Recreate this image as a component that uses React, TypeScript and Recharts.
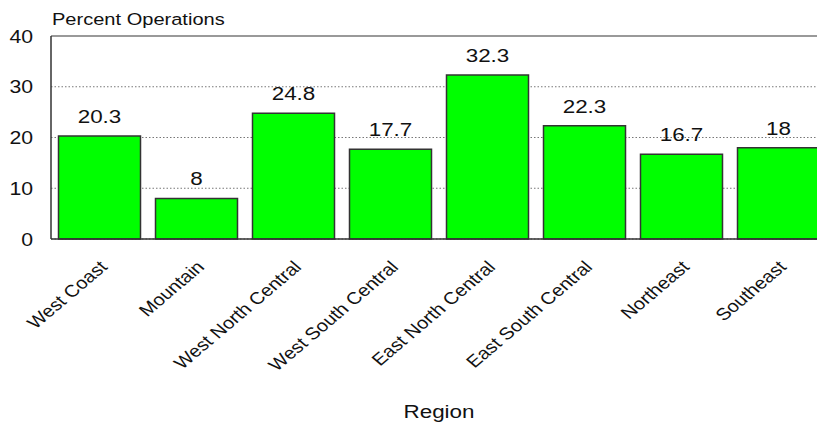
import * as React from "react";
import {
  BarChart,
  Bar,
  XAxis,
  YAxis,
  CartesianGrid,
  ReferenceLine,
  LabelList,
} from "recharts";

const regions = [
  "West Coast",
  "Mountain",
  "West North Central",
  "West South Central",
  "East North Central",
  "East South Central",
  "Northeast",
  "Southeast",
];
const percentOps = [20.3, 8, 24.8, 17.7, 32.3, 22.3, 16.7, 18];
const yTicks = [0, 10, 20, 30, 40];

const data = regions.map((region, i) => ({ region, value: percentOps[i] }));

// the source image is stretched horizontally, so text gets a small x-scale
const S = 1.18;
const FONT = "'Liberation Sans', Arial, Helvetica, sans-serif";
const INK = "#111";

function YTick({ x, y, payload }: any) {
  return (
    <text
      transform={`translate(${x - 18},${y + 6.5}) scale(${S},1)`}
      textAnchor="end"
      fontSize={18}
      fontFamily={FONT}
      fill={INK}
    >
      {payload.value}
    </text>
  );
}

function XTick({ x, y, payload }: any) {
  return (
    <text
      transform={`translate(${x + 9},${y + 29}) scale(${S},1) rotate(-45)`}
      textAnchor="end"
      fontSize={17}
      fontFamily={FONT}
      fill={INK}
    >
      {payload.value}
    </text>
  );
}

function ValueLabel({ x, y, width, value }: any) {
  return (
    <text
      transform={`translate(${x + width / 2},${y - 13}) scale(${S},1)`}
      textAnchor="middle"
      fontSize={19}
      fontFamily={FONT}
      fill={INK}
    >
      {value}
    </text>
  );
}

function RegionLabel({ viewBox }: any) {
  const cx = viewBox.x + viewBox.width / 2;
  return (
    <text
      transform={`translate(${cx},${viewBox.y + viewBox.height - 9}) scale(${S},1)`}
      textAnchor="middle"
      fontSize={19}
      fontFamily={FONT}
      fill={INK}
    >
      Region
    </text>
  );
}

export default function App() {
  return (
    <div
      style={{
        position: "absolute",
        left: 0,
        top: 0,
        width: 817,
        height: 427,
        overflow: "hidden",
        background: "#fff",
      }}
    >
      <BarChart
        width={830}
        height={427}
        data={data}
        margin={{ top: 36, right: 3, left: 0, bottom: 0 }}
        barCategoryGap={7.5}
      >
        <CartesianGrid
          vertical={false}
          stroke="#777"
          strokeDasharray="1.5 2"
        />
        <ReferenceLine y={40} stroke="#999" strokeWidth={2} />
        <XAxis
          dataKey="region"
          interval={0}
          height={188}
          tickLine={false}
          tickSize={0}
          tickMargin={0}
          axisLine={{ stroke: "#333", strokeWidth: 1.5 }}
          tick={<XTick />}
          label={{ content: <RegionLabel /> }}
        />
        <YAxis
          width={51}
          domain={[0, 40]}
          ticks={yTicks}
          tickLine={false}
          tickSize={0}
          tickMargin={0}
          axisLine={{ stroke: "#333", strokeWidth: 1.5 }}
          tick={<YTick />}
        />
        <Bar
          dataKey="value"
          fill="#00ff00"
          stroke="#333"
          strokeWidth={1.5}
          isAnimationActive={false}
        >
          <LabelList dataKey="value" content={<ValueLabel />} />
        </Bar>
      </BarChart>
      <svg
        width={817}
        height={34}
        style={{ position: "absolute", left: 0, top: 0 }}
      >
        <text
          transform={`translate(52,25) scale(${S},1)`}
          fontSize={17}
          fontFamily={FONT}
          fill={INK}
        >
          Percent Operations
        </text>
      </svg>
    </div>
  );
}
